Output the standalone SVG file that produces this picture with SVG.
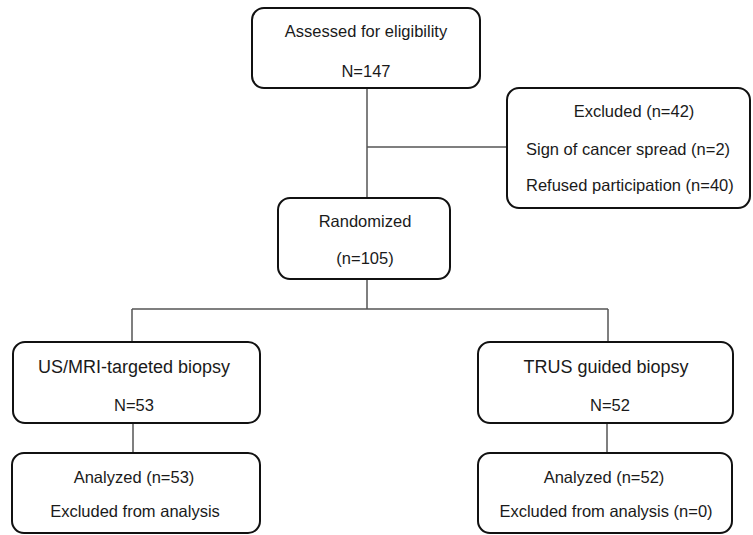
<svg xmlns="http://www.w3.org/2000/svg" width="753" height="535" viewBox="0 0 753 535">
<style>
.box{fill:#fff;stroke:#111;stroke-width:2}
.t{font-family:"Liberation Sans",Arial,sans-serif;font-size:16.5px;fill:#1a1a1a;text-anchor:middle}
.s{text-anchor:start}
.b{font-size:18px}
.c{fill:none;stroke:#555;stroke-width:1.5}
</style>
<rect width="753" height="535" fill="#fff"/>
<g id="connectors">
<path class="c" d="M367 88V198M367 147H507M367 279V309M132 309H608M132 309V342M608 309V342M133 423V453M607 423V453"/>
</g>
<g id="assessed">
<rect class="box" x="252" y="8" width="228" height="80" rx="12"/>
<text class="t" x="366" y="37">Assessed for eligibility</text>
<text class="t" x="366" y="77">N=147</text>
</g>
<g id="excluded">
<rect class="box" x="507" y="88" width="243" height="120" rx="12"/>
<text class="t" x="634" y="117">Excluded (n=42)</text>
<text class="t s" x="526" y="155">Sign of cancer spread (n=2)</text>
<text class="t s" x="526" y="191">Refused participation (n=40)</text>
</g>
<g id="randomized">
<rect class="box" x="278" y="198" width="172" height="81" rx="12"/>
<text class="t" x="365" y="227">Randomized</text>
<text class="t" x="365" y="264">(n=105)</text>
</g>
<g id="usmri">
<rect class="box" x="13" y="342" width="247" height="81" rx="12"/>
<text class="t b" x="134" y="373">US/MRI-targeted biopsy</text>
<text class="t" x="134" y="411">N=53</text>
</g>
<g id="trus">
<rect class="box" x="478" y="342" width="255" height="81" rx="12"/>
<text class="t b" x="606" y="373">TRUS guided biopsy</text>
<text class="t" x="610" y="411">N=52</text>
</g>
<g id="analyzed-left">
<rect class="box" x="12" y="453" width="248" height="80" rx="12"/>
<text class="t" x="134" y="483">Analyzed (n=53)</text>
<text class="t" x="135" y="517">Excluded from analysis</text>
</g>
<g id="analyzed-right">
<rect class="box" x="478" y="453" width="254" height="80" rx="12"/>
<text class="t" x="604" y="483">Analyzed (n=52)</text>
<text class="t" x="606" y="517">Excluded from analysis (n=0)</text>
</g>
</svg>
